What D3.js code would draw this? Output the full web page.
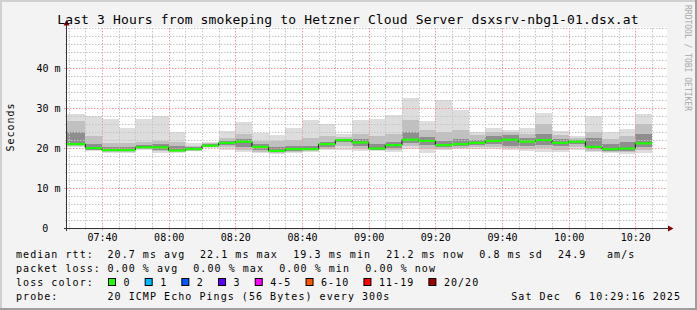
<!DOCTYPE html>
<html><head><meta charset="utf-8">
<script src="https://cdn.jsdelivr.net/npm/d3@7"></script>
<style>
body{margin:0;background:#f3f3f3}
svg{display:block}
text{font-family:"DejaVu Sans Mono",monospace;fill:#000;white-space:pre}
</style>
</head><body>
<svg id="c" width="697" height="310"></svg>
<script>
const titleText = "Last 3 Hours from smokeping to Hetzner Cloud Server dsxsrv-nbg1-01.dsx.at";
const yAxisLabel = "Seconds";
const watermark = "RRDTOOL / TOBI OETIKER";
const timeDomain = ["07:29:30", "10:29:30"];
const barEnds = ["07:35","07:40","07:45","07:50","07:55","08:00","08:05","08:10","08:15","08:20","08:25","08:30","08:35","08:40","08:45","08:50","08:55","09:00","09:05","09:10","09:15","09:20","09:25","09:30","09:35","09:40","09:45","09:50","09:55","10:00","10:05","10:10","10:15","10:20","10:25"];
const pingMax = [28.5,28.0,27.25,25.0,27.25,28.0,23.9,21.2,21.6,24.25,26.5,23.8,23.25,25.0,27.0,26.0,23.5,27.0,27.25,28.25,32.4,26.75,32.0,29.5,23.9,24.9,24.5,24.9,28.8,24.25,23.0,28.1,23.9,24.75,28.5];
const pingHi2 = [26.8,23.1,21.3,21.2,21.6,21.8,21.5,20.6,21.2,22.6,23.5,21.8,21.7,22.0,22.4,23.0,22.8,23.5,23.0,23.5,27.0,24.5,24.0,24.5,23.2,24.0,24.0,23.5,26.0,23.2,22.5,24.0,22.2,23.0,26.0];
const pingHi3 = [23.9,21.0,20.2,20.2,20.8,21.0,20.4,20.2,20.9,21.8,22.2,20.9,20.2,20.6,20.6,21.6,22.3,22.2,21.0,21.5,24.0,22.8,21.8,22.2,22.0,23.0,23.2,22.4,23.5,22.2,21.9,22.5,21.0,21.6,23.5];
const median  = [21.0,20.0,19.5,19.5,20.2,20.2,19.4,19.75,20.6,21.3,21.6,20.3,19.3,19.75,19.75,21.0,22.0,21.4,19.9,20.75,22.1,21.8,20.75,21.0,21.3,21.8,22.1,21.6,22.0,21.3,21.6,20.3,19.75,19.9,21.2];
const pingLo3 = [20.7,19.6,19.2,19.2,19.9,19.6,19.2,19.5,20.4,20.8,20.2,19.6,19.0,19.3,19.4,20.3,21.4,20.6,19.6,20.0,21.3,20.7,20.2,20.5,20.8,21.0,20.6,20.4,20.8,20.5,21.0,19.8,19.3,19.3,20.3];
const pingLo2 = [20.5,19.4,19.0,19.0,19.7,19.2,18.9,19.35,20.2,20.2,19.5,19.1,18.8,19.0,19.2,19.8,20.5,19.8,19.4,19.4,20.5,19.8,19.8,20.1,20.3,20.3,20.0,19.8,20.0,19.6,20.2,19.3,19.0,18.9,19.5];
const pingMin = [20.3,19.3,18.8,18.8,19.5,18.8,18.7,19.2,20.0,19.5,18.9,18.7,18.6,18.8,19.0,19.5,19.5,19.3,19.25,18.9,19.8,18.7,19.5,19.75,19.8,19.75,19.5,19.25,19.1,19.0,19.5,18.9,18.7,18.5,18.8];
const yTicks = [0,10,20,30,40];
const yTickLabels = ["0","10 m","20 m","30 m","40 m"];
const lossLabels = ["0","1","2","3","4-5","6-10","11-19","20/20"];
const lossColors = ["#20ff00","#00b8ff","#0059ff","#5e00ff","#ff00ff","#ff5500","#ff0000","#a00000"];
const legendRtt = ["median rtt:","20.7 ms avg","22.1 ms max","19.3 ms min","21.2 ms now","0.8 ms sd","24.9","am/s"];
const legendLoss = ["packet loss:","0.00 % avg","0.00 % max","0.00 % min","0.00 % now"];
const legendProbe = ["probe:","20 ICMP Echo Pings (56 Bytes) every 300s"];
const stampText = "Sat Dec  6 10:29:16 2025";

const W = 697, H = 310;
const svg = d3.select("#c");
const parse = d3.timeParse("%Y-%m-%d %H:%M:%S");
const t = s => parse("2025-12-06 " + (s.length === 5 ? s + ":00" : s));

// background & border
svg.append("rect").attr("width", W).attr("height", H).attr("fill", "#f3f3f3");
svg.append("rect").attr("x",0).attr("y",0).attr("width",W).attr("height",2).attr("fill","#d0d0d0");
svg.append("rect").attr("x",0).attr("y",0).attr("width",2).attr("height",H).attr("fill","#d0d0d0");
svg.append("rect").attr("x",0).attr("y",H-2).attr("width",W).attr("height",2).attr("fill","#9e9e9e");
svg.append("rect").attr("x",W-2).attr("y",0).attr("width",2).attr("height",H).attr("fill","#9e9e9e");

const x = d3.scaleTime().domain(timeDomain.map(t)).range([67, 667]).clamp(true);
const y = d3.scaleLinear().domain([0, 50]).range([228, 28]);

svg.append("rect").attr("x", 67).attr("y", 27).attr("width", 600).attr("height", 201).attr("fill", "#fff");

// grid
const g = svg.append("g");
const minorY = y.ticks(25).filter(v => v % 10 !== 0 || v === 50);
const majorY = y.ticks(5).filter(v => v > 0 && v < 50);
const minorX = x.ticks(d3.timeMinute.every(5)).filter(d => d.getMinutes() % 20 !== 0);
const majorX = x.ticks(d3.timeMinute.every(20));
const minorCol = "#c4c4c4", majorCol = "#ef9a9a";

g.selectAll(".hm").data(minorY).join("line")
  .attr("x1", 65).attr("x2", 667).attr("y1", d => Math.round(y(d)) + 0.5).attr("y2", d => Math.round(y(d)) + 0.5)
  .attr("stroke", minorCol).attr("stroke-dasharray", "1.5,1.5");
g.selectAll(".vm").data(minorX).join("line")
  .attr("y1", 28).attr("y2", 230).attr("x1", d => Math.round(x(d)) + 0.5).attr("x2", d => Math.round(x(d)) + 0.5)
  .attr("stroke", minorCol).attr("stroke-dasharray", "1.5,1.5");

// smoke
const bars = barEnds.map((e, i) => ({
  start: i === 0 ? x.domain()[0] : t(barEnds[i - 1]),
  end: t(e),
  max: pingMax[i], hi2: pingHi2[i], hi3: pingHi3[i], med: median[i],
  lo3: pingLo3[i], lo2: pingLo2[i], min: pingMin[i]
}));
const bands = [["min","max","#dddddd"],["lo2","hi2","#c0c0c0"],["lo3","hi3","#8e8e8e"]];
bands.forEach(([lo, hi, col]) => {
  svg.append("g").selectAll("rect").data(bars).join("rect")
    .attr("x", d => x(d.start)).attr("width", d => x(d.end) - x(d.start))
    .attr("y", d => y(d[hi])).attr("height", d => y(d[lo]) - y(d[hi]))
    .attr("fill", col).attr("shape-rendering", "crispEdges");
});

// grid drawn above smoke
g.raise();
g.selectAll(".hM").data(majorY).join("line")
  .attr("x1", 64).attr("x2", 667).attr("y1", d => Math.round(y(d)) + 0.5).attr("y2", d => Math.round(y(d)) + 0.5)
  .attr("stroke", majorCol).attr("stroke-dasharray", "1.5,1.5");
g.selectAll(".vM").data(majorX).join("line")
  .attr("y1", 28).attr("y2", 231).attr("x1", d => Math.round(x(d)) + 0.5).attr("x2", d => Math.round(x(d)) + 0.5)
  .attr("stroke", majorCol).attr("stroke-dasharray", "1.5,1.5");

// median
const stepPts = bars.map(d => [d.start, d.med]).concat([[bars[bars.length - 1].end, bars[bars.length - 1].med]]);
svg.append("path").datum(stepPts)
  .attr("d", d3.line().x(d => x(d[0])).y(d => y(d[1])).curve(d3.curveStepAfter))
  .attr("fill", "none").attr("stroke", "#111").attr("stroke-width", 1);
svg.append("g").selectAll("rect").data(bars).join("rect")
  .attr("x", d => x(d.start)).attr("width", d => x(d.end) - x(d.start))
  .attr("y", d => y(d.med) - 1).attr("height", 2.2).attr("fill", lossColors[0]);

// axes
const yAxis = svg.append("g").attr("transform", "translate(67,0)")
  .call(d3.axisLeft(y).tickValues(yTicks).tickSize(0).tickPadding(6.5)
    .tickFormat((d, i) => yTickLabels[i]));
yAxis.select(".domain").remove();
yAxis.selectAll("text").attr("font-size", 10).attr("font-family", "DejaVu Sans Mono")
  .attr("x", d => d === 0 ? -18.7 : -6.5);

const xAxis = svg.append("g").attr("transform", "translate(0,228)")
  .call(d3.axisBottom(x).ticks(d3.timeMinute.every(20)).tickSize(0).tickPadding(6)
    .tickFormat(d3.timeFormat("%H:%M")));
xAxis.select(".domain").remove();
xAxis.selectAll("text").attr("font-size", 10).attr("font-family", "DejaVu Sans Mono");

// axis lines + arrows
svg.append("line").attr("x1", 66.5).attr("x2", 66.5).attr("y1", 231).attr("y2", 24).attr("stroke", "#333");
svg.append("line").attr("x1", 64).attr("x2", 670).attr("y1", 228.5).attr("y2", 228.5).attr("stroke", "#333");
svg.append("path").attr("d", "M63.5,25.5 L66.5,20 L69.5,25.5 Z").attr("fill", "#800000");
svg.append("path").attr("d", "M668,225.5 L673.5,228.5 L668,231.5 Z").attr("fill", "#800000");

// title, labels
svg.append("text").attr("x", 348).attr("y", 24).attr("text-anchor", "middle")
  .attr("font-size", 13).attr("letter-spacing", 0.14).text(titleText);
svg.append("text").attr("transform", "translate(14.3,127) rotate(-90)").attr("text-anchor", "middle")
  .attr("font-size", 10).attr("letter-spacing", 1).text(yAxisLabel);
svg.append("text").attr("transform", "translate(685,5) rotate(90)")
  .attr("font-size", 8).style("fill", "#a8a8a8").text(watermark);

// legend
const L = svg.append("g").attr("font-size", 10).attr("letter-spacing", 1.05);
const rttX = [16, 107.5, 200, 293.3, 386.3, 479.3, 558, 607];
legendRtt.forEach((s, i) => L.append("text").attr("x", rttX[i]).attr("y", 258).text(s));
const lossX = [16, 107.5, 193.3, 279.3, 365.3];
legendLoss.forEach((s, i) => L.append("text").attr("x", lossX[i]).attr("y", 272).text(s));
L.append("text").attr("x", 16).attr("y", 286).text("loss color:");
let bx = 108.5;
lossLabels.forEach((s, i) => {
  L.append("rect").attr("x", bx).attr("y", 278.5).attr("width", 7).attr("height", 7)
    .attr("fill", lossColors[i]).attr("stroke", "#000").attr("stroke-width", 1);
  const tx = L.append("text").attr("x", bx + 15).attr("y", 286).text(s);
  bx = bx + 15 + tx.node().getComputedTextLength() + 14.6;
});
legendProbe.forEach((s, i) => L.append("text").attr("x", [16, 107.5][i]).attr("y", 299.7).text(s));
L.append("text").attr("x", 681).attr("y", 299.7).attr("text-anchor", "end").text(stampText);
</script>
</body></html>
